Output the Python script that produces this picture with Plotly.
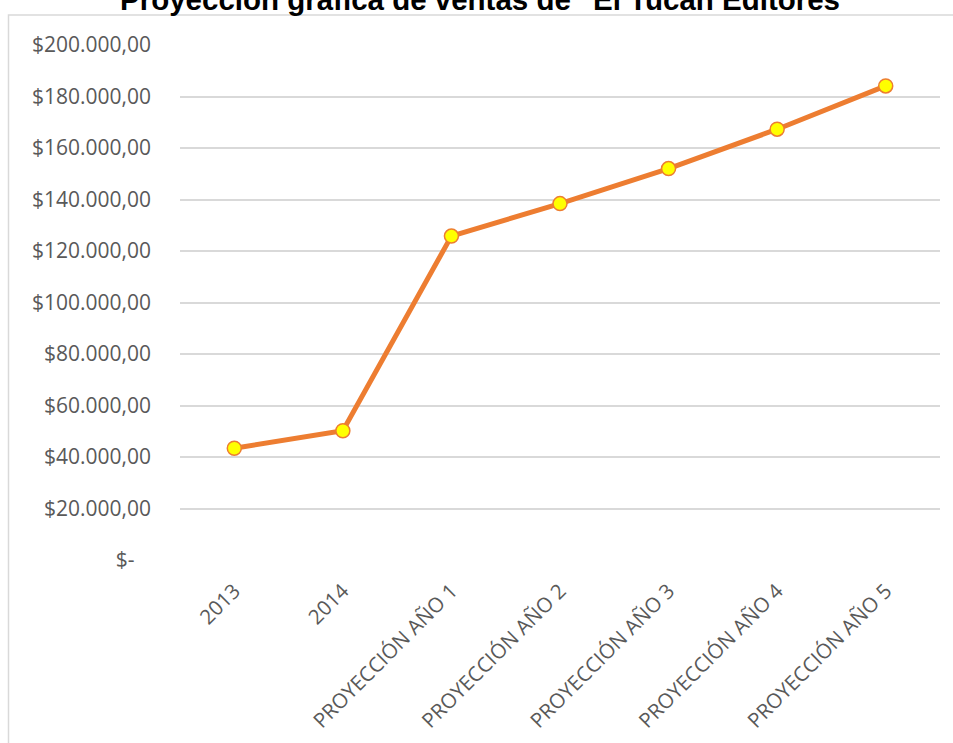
import plotly.graph_objects as go

# Sales history and projection
categories = ["2013", "2014", "PROYECCIÓN AÑO 1", "PROYECCIÓN AÑO 2",
              "PROYECCIÓN AÑO 3", "PROYECCIÓN AÑO 4", "PROYECCIÓN AÑO 5"]
ventas = [43400, 50200, 125800, 138400, 152000, 167300, 184100]

y_ticks = [0, 20000, 40000, 60000, 80000, 100000, 120000, 140000, 160000, 180000, 200000]
y_labels = ["$-\u00a0\u00a0\u00a0", "$20.000,00", "$40.000,00", "$60.000,00", "$80.000,00",
            "$100.000,00", "$120.000,00", "$140.000,00", "$160.000,00",
            "$180.000,00", "$200.000,00"]

W, H = 953, 743
L, R, T, B = 180, 13, 45, 183

fig = go.Figure()
fig.add_trace(go.Scatter(
    x=categories, y=ventas, mode="lines+markers",
    line=dict(color="#ED7D31", width=5),
    marker=dict(size=14, color="#FFFF00", line=dict(color="#ED7D31", width=1.5)),
    showlegend=False, cliponaxis=False,
))

# chart-area frame (top and left edges visible)
pw, ph = W - L - R, H - T - B
fig.add_shape(type="rect", xref="paper", yref="paper",
              x0=(8.5 - L) / pw, x1=1.2, y0=-0.5, y1=(H - B - 15) / ph,
              line=dict(color="#D9D9D9", width=1.5), fillcolor="rgba(0,0,0,0)",
              layer="below")

fig.update_layout(
    width=W, height=H,
    margin=dict(l=L, r=R, t=T, b=B),
    paper_bgcolor="white", plot_bgcolor="white",
    title=dict(text='Proyección gráfica de ventas de "El Tucán Editores"',
               font=dict(family="Liberation Sans, Arial", size=29.5, color="#000000", weight="bold"),
               x=487 / W, xanchor="center", y=1.0, yanchor="middle", yref="container"),
    xaxis=dict(type="category", range=[-0.5, 6.5], showgrid=False, zeroline=False,
               showline=False, ticks="", tickangle=-45, ticklabelstandoff=14,
               automargin=False,
               tickfont=dict(family="Open Sans", size=20.5, color="#595959")),
    yaxis=dict(range=[0, 200000], tickvals=y_ticks, ticktext=y_labels,
               showgrid=True, gridcolor="#D9D9D9", gridwidth=1.5, zeroline=False,
               showline=False, ticks="", ticklabelstandoff=28, automargin=False,
               tickfont=dict(family="Open Sans", size=21, color="#595959")),
)

fig.write_html("out.html")
